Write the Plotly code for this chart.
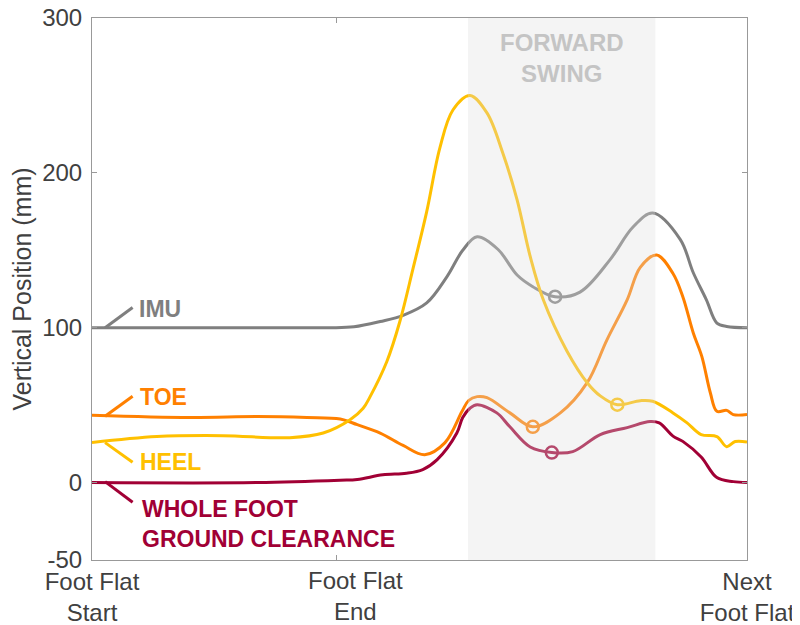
import plotly.graph_objects as go

# ---- data (x = % of stride from foot flat start to next foot flat) ----
imu_x = [0, 10, 20, 30, 36.3, 40, 44.0, 47.5, 51.1, 54.2, 56.6, 58.8, 62, 64.9, 67.3, 70.7, 74.5, 79.1, 82.6, 85.6, 89.8, 91.8, 93.8, 95.4, 96.9, 100]
imu_y = [100, 100, 100, 100, 100, 100.6, 104, 108, 116, 133, 150, 158.7, 150.5, 134, 126.5, 120, 123, 144, 165, 174, 157, 135.5, 118, 103, 100.8, 100]

toe_x = [0, 15, 25.2, 32.8, 37.9, 40.5, 44.0, 47.5, 50.8, 53.9, 56.5, 57.5, 58.8, 60.3, 63.8, 67.3, 71.5, 75.6, 78.6, 81.7, 83.7, 86.2, 88.7, 90.2, 91.8, 93.1, 94.4, 95.4, 96.9, 97.9, 100]
toe_y = [43.5, 42, 42.6, 42, 41, 37.4, 32, 24, 18, 25.8, 46, 53, 55.5, 54.8, 45, 36, 45, 64.5, 92, 118, 139, 147, 135, 120, 96.6, 81.5, 58, 46, 46.6, 43.9, 43.9]

heel_x = [0, 9.9, 20, 30.2, 35.3, 39.4, 41.4, 42.4, 45, 47, 49, 51.1, 53.1, 55.1, 57.7, 60.3, 62.7, 64.9, 66.9, 68.9, 72.5, 75.6, 77.6, 80.2, 83.7, 85.6, 88.7, 90.8, 93.0, 95.4, 96.9, 98.2, 100]
heel_y = [25.8, 29.7, 30.3, 29, 32, 40.6, 48, 55, 78, 104, 138, 175, 216, 240.6, 250, 238.7, 213, 182.6, 146, 118, 85, 64.5, 56, 50.3, 52.9, 52.5, 45, 38.7, 31, 29.7, 23.2, 26.5, 26.2]

foot_x = [0, 25.2, 37.9, 40.5, 44.4, 48, 50.5, 52.7, 55.7, 56.6, 57.7, 58.8, 61.8, 63.8, 66.9, 70.2, 73.4, 77.6, 81.7, 85.2, 86.6, 88.7, 90.2, 93.0, 95.4, 97.9, 100]
foot_y = [0, 0, 1.5, 2, 5, 6, 8.4, 14.8, 32, 42, 48, 50.3, 45, 36, 23, 19.4, 20, 31, 35.5, 39.4, 38.5, 30, 26.6, 16.5, 3.2, 0.6, 0]

# minimum-clearance markers (x, y)
imu_min = (70.7, 120)
toe_min = (67.3, 36)
heel_min = (80.2, 50.3)
foot_min = (70.2, 19.4)

swing_start, swing_end = 57.4, 86.0

y_ticks = [-50, 0, 100, 200, 300]
y_tick_text = ["-50", "0", "100", "200", "300"]
x_tick_vals = [0, 37.3, 100]
x_tick_text = ["Foot Flat<br>Start", "Foot Flat<br>End", "Next<br>Foot Flat"]

series_names = ["IMU", "TOE", "HEEL", "WHOLE FOOT<br>GROUND CLEARANCE"]
colors = ["#7F7F7F", "#FF8000", "#FFC000", "#A10035"]

FONT = "Liberation Sans, Arial, sans-serif"
TICK_SIZE = 24

fig = go.Figure()
series = [(imu_x, imu_y, imu_min), (toe_x, toe_y, toe_min), (heel_x, heel_y, heel_min), (foot_x, foot_y, foot_min)]
for (xs, ys, mn), c in zip(series, colors):
    fig.add_trace(go.Scatter(x=xs, y=ys, mode="lines",
                             line=dict(color=c, width=3, shape="spline", smoothing=1.0),
                             hoverinfo="skip", showlegend=False))
    fig.add_trace(go.Scatter(x=[mn[0]], y=[mn[1]], mode="markers",
                             marker=dict(symbol="circle-open", size=12, color=c, line=dict(width=2.5, color=c)),
                             showlegend=False))

# swing band overlay
fig.add_shape(type="rect", xref="x", yref="y", x0=swing_start, x1=swing_end, y0=-50, y1=300,
              fillcolor="rgba(221,221,221,0.33)", line=dict(width=0), layer="above")
fig.add_annotation(x=(swing_start + swing_end) / 2, y=274, xref="x", yref="y",
                   text="<b>FORWARD<br>SWING</b>", showarrow=False,
                   font=dict(family=FONT, size=24, color="#C4C4C4"))

# labels with lead lines
label_pos = [(113, 6.9, 112), (55.7, 7.0, 55.5), (13.1, 7.0, 13.0), (-12.7, 7.3, -27)]
start_y = [100, 42.8, 25.8, 0.6]
for name, c, (ly, tx, ty), sy in zip(series_names, colors, label_pos, start_y):
    fig.add_shape(type="line", xref="x", yref="y", x0=2.0, y0=sy, x1=6.2, y1=ly,
                  line=dict(color=c, width=3))
    fig.add_annotation(x=tx, y=ty, xref="x", yref="y", text="<b>" + name + "</b>",
                       showarrow=False, xanchor="left", yanchor="middle", align="left",
                       font=dict(family=FONT, size=23, color=c))

# middle x label (offset from its tick)
fig.add_annotation(x=40.2, y=-50, xref="x", yref="y", yanchor="top", yshift=-5,
                   text=x_tick_text[1], showarrow=False,
                   font=dict(family=FONT, size=TICK_SIZE, color="#404040"))

# page body adds an 8px offset; size/margins compensate so the plot area lands at x 92-747, y 18-560
fig.update_layout(
    width=792, height=617,
    margin=dict(l=84, r=53, t=10, b=65),
    paper_bgcolor="white", plot_bgcolor="white",
    font=dict(family=FONT, size=TICK_SIZE, color="#404040"),
    showlegend=False,
)
fig.update_xaxes(range=[0, 100], tickvals=x_tick_vals, automargin=False,
                 ticktext=[x_tick_text[0], "", x_tick_text[2]], ticklabeloverflow="allow",
                 showline=True, linecolor="#999999", linewidth=1, mirror="ticks",
                 ticks="inside", ticklen=5, tickcolor="#999999",
                 showgrid=False, zeroline=False, tickfont=dict(size=TICK_SIZE, color="#404040"))
fig.update_yaxes(range=[-50, 300], tickvals=y_ticks, ticktext=y_tick_text, automargin=False,
                 showline=True, linecolor="#999999", linewidth=1, mirror="ticks",
                 ticks="inside", ticklen=5, tickcolor="#999999", ticklabelstandoff=4,
                 ticklabeloverflow="allow",
                 showgrid=False, zeroline=False, tickfont=dict(size=TICK_SIZE, color="#404040"),
                 title=dict(text="Vertical Position (mm)", font=dict(size=25, color="#404040"), standoff=6))

fig.write_html("out.html")
